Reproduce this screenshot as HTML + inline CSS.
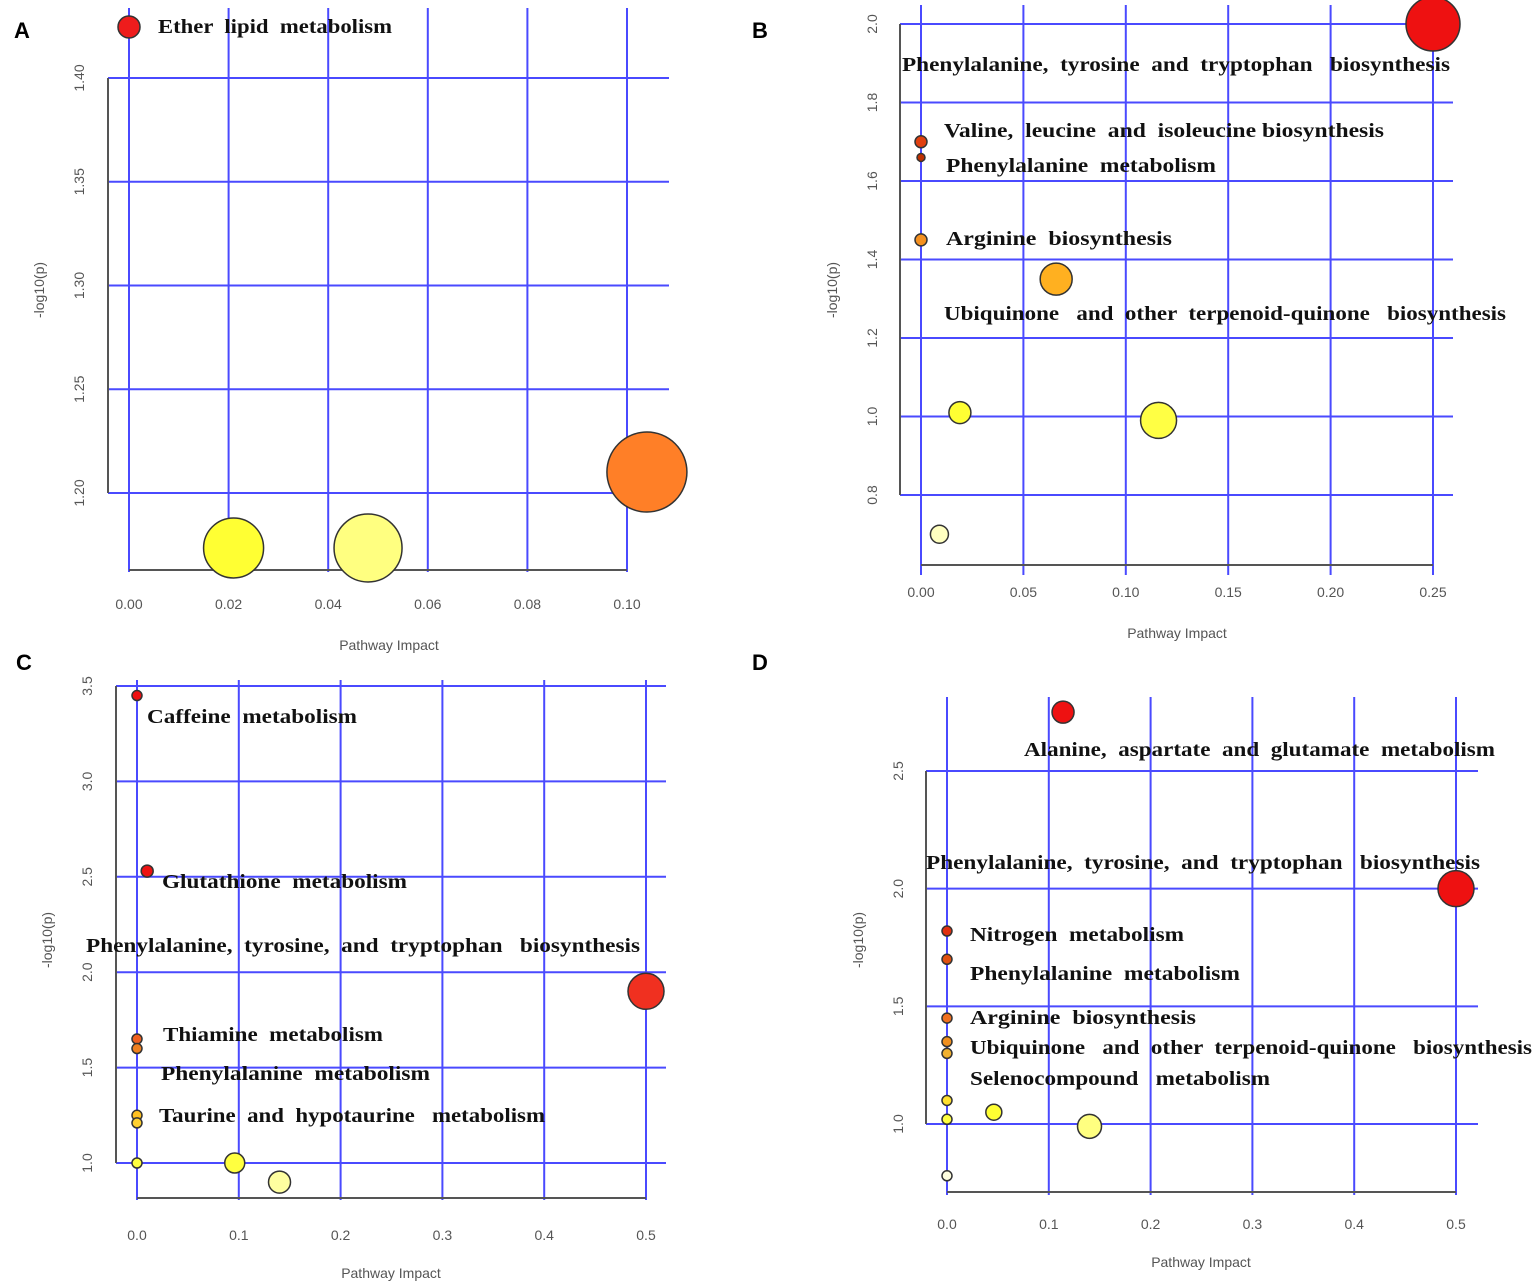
<!DOCTYPE html>
<html><head><meta charset="utf-8"><style>
body{margin:0;background:#fff;width:1535px;height:1286px;overflow:hidden}
svg{display:block}
.tk{font:14px "Liberation Sans",sans-serif;fill:#555}
.ti{font:14px "Liberation Sans",sans-serif;fill:#555}
.lb{font:bold 20px "Liberation Serif",serif;fill:#111}
.pl{font:bold 22px "Liberation Sans",sans-serif;fill:#000}
</style></head><body>
<svg id="chart" width="1535" height="1286" viewBox="0 0 1535 1286"></svg>
<script>
// Panel A data
const aX=[0.0,0.021,0.048,0.104];
const aY=[1.4246,1.1735,1.1735,1.2101];
const aR=[11,30,34,40];
const aC=["#ee1c1c","#ffff33","#ffff80","#ff7f27"];
const aXt=["0.00","0.02","0.04","0.06","0.08","0.10"];
const aYt=["1.20","1.25","1.30","1.35","1.40"];
const aLbl=[["Ether  lipid  metabolism",158,33,234]];
// Panel B data
const bX=[0.25,0.0,0.0,0.0,0.066,0.019,0.116,0.009];
const bY=[2.0,1.70,1.66,1.45,1.35,1.01,0.99,0.70];
const bR=[27,6,4,6,16,11,18,9];
const bC=["#ee1111","#e04010","#c03000","#f49020","#ffb020","#ffff33","#ffff44","#ffffc0"];
const bXt=["0.00","0.05","0.10","0.15","0.20","0.25"];
const bYt=["0.8","1.0","1.2","1.4","1.6","1.8","2.0"];
const bLbl=[["Phenylalanine,  tyrosine  and  tryptophan   biosynthesis",902,71,548],["Valine,  leucine  and  isoleucine biosynthesis",944,137,440],["Phenylalanine  metabolism",946,172,270],["Arginine  biosynthesis",946,245,226],["Ubiquinone   and  other  terpenoid-quinone   biosynthesis",944,320,562]];
// Panel C data
const cX=[0.0,0.01,0.5,0.0,0.0,0.0,0.0,0.0,0.096,0.14];
const cY=[3.45,2.53,1.9,1.65,1.60,1.25,1.21,1.0,1.0,0.9];
const cR=[5,6,18,5,5,5,5,5,10,11];
const cC=["#ee1111","#ee1111","#f03020","#f06020","#f08020","#ffc020","#ffd030","#ffff40","#ffff40","#ffffa0"];
const cXt=["0.0","0.1","0.2","0.3","0.4","0.5"];
const cYt=["1.0","1.5","2.0","2.5","3.0","3.5"];
const cLbl=[["Caffeine  metabolism",147,723,210],["Glutathione  metabolism",162,888,245],["Phenylalanine,  tyrosine,  and  tryptophan   biosynthesis",86,952,554],["Thiamine  metabolism",163,1041,220],["Phenylalanine  metabolism",161,1080,269],["Taurine  and  hypotaurine   metabolism",159,1122,386]];
// Panel D data
const dX=[0.114,0.5,0.0,0.0,0.0,0.0,0.0,0.0,0.046,0.0,0.14,0.0];
const dY=[2.75,2.0,1.82,1.70,1.45,1.35,1.30,1.10,1.05,1.02,0.99,0.78];
const dR=[11,18,5,5,5,5,5,5,8,5,12,5];
const dC=["#ee1111","#ee1111","#e03010","#e05010","#f07020","#f09020","#f0b030","#ffe030","#ffff33","#ffff40","#ffff80","#ffffe0"];
const dXt=["0.0","0.1","0.2","0.3","0.4","0.5"];
const dYt=["1.0","1.5","2.0","2.5"];
const dLbl=[["Alanine,  aspartate  and  glutamate  metabolism",1024,756,471],["Phenylalanine,  tyrosine,  and  tryptophan   biosynthesis",926,869,554],["Nitrogen  metabolism",970,941,214],["Phenylalanine  metabolism",970,980,270],["Arginine  biosynthesis",970,1024,226],["Ubiquinone   and  other  terpenoid-quinone   biosynthesis",970,1054,562],["Selenocompound   metabolism",970,1085,300]];

const NS="http://www.w3.org/2000/svg";
const svg=document.getElementById('chart');
function el(t,a,txt){const e=document.createElementNS(NS,t);for(const k in a)e.setAttribute(k,a[k]);if(txt!==undefined)e.textContent=txt;svg.appendChild(e);return e;}

function panel(p){
  const sx=v=>p.x0+(v-p.xv0)*(p.x1-p.x0)/(p.xv1-p.xv0);
  const sy=v=>p.y0+(v-p.yv0)*(p.y1-p.y0)/(p.yv1-p.yv0);
  const L=el('text',{x:p.letter[0],y:p.letter[1],class:'pl'},p.name);
  
  
  p.xt.forEach(t=>{const v=parseFloat(t),x=sx(v);
    const g=el('line',{x1:x,y1:p.gTop,x2:x,y2:p.gBot,stroke:'#4a4aff','stroke-width':2});
    
    
    const tl=el('text',{x:x,y:p.xtY,class:'tk','text-anchor':'middle'},t);
    
    
  });
  p.yt.forEach(t=>{const v=parseFloat(t),y=sy(v);
    const g=el('line',{x1:p.gL,y1:y,x2:p.gR,y2:y,stroke:'#4a4aff','stroke-width':2});
    
    
    const tl=el('text',{x:p.ytX,y:y,class:'tk','text-anchor':'middle',transform:`rotate(-90 ${p.ytX} ${y})`},t);
    
    
  });
  const yv=p.yt.map(parseFloat),xv=p.xt.map(parseFloat);
  const ya=el('line',{x1:p.axX,y1:sy(Math.max(...yv)),x2:p.axX,y2:sy(Math.min(...yv)),stroke:'#555','stroke-width':2});
  
  
  const xa=el('line',{x1:sx(Math.min(...xv)),y1:p.axY,x2:sx(Math.max(...xv)),y2:p.axY,stroke:'#555','stroke-width':2});
  
  
  const xt=el('text',{x:p.xtt[0],y:p.xtt[1],class:'ti','text-anchor':'middle'},'Pathway Impact');
  
  
  const yt=el('text',{x:p.ytt[0],y:p.ytt[1],class:'ti','text-anchor':'middle',transform:`rotate(-90 ${p.ytt[0]} ${p.ytt[1]})`},'-log10(p)');
  
  
  p.X.forEach((v,i)=>{
    const c=el('circle',{cx:sx(v),cy:sy(p.Y[i]),r:p.R[i],fill:p.C[i],stroke:'#333','stroke-width':1.5});
    
    
  });
  p.lbl.forEach(l=>{
    const t=el('text',{x:l[1],y:l[2],class:'lb',textLength:l[3],lengthAdjust:'spacingAndGlyphs'},l[0]);
    t.style.whiteSpace='pre';
    
    
  });
}
panel({name:'A',letter:[14,38],X:aX,Y:aY,R:aR,C:aC,xt:aXt,yt:aYt,lbl:aLbl,xv0:0,xv1:0.1,x0:129,x1:627,yv0:1.4,yv1:1.2,y0:78,y1:493,gTop:8,gBot:572,gL:108,gR:669,axX:108,axY:570,xtY:609,ytX:84,xtt:[389,650],ytt:[44,290]});
panel({name:'B',letter:[752,38],X:bX,Y:bY,R:bR,C:bC,xt:bXt,yt:bYt,lbl:bLbl,xv0:0,xv1:0.25,x0:921,x1:1433,yv0:2.0,yv1:0.8,y0:24,y1:495,gTop:5,gBot:575,gL:900,gR:1453,axX:900,axY:565,xtY:597,ytX:877,xtt:[1177,638],ytt:[837,290]});
panel({name:'C',letter:[16,670],X:cX,Y:cY,R:cR,C:cC,xt:cXt,yt:cYt,lbl:cLbl,xv0:0,xv1:0.5,x0:137,x1:646,yv0:3.5,yv1:1.0,y0:686,y1:1163,gTop:680,gBot:1200,gL:116,gR:666,axX:116,axY:1198,xtY:1240,ytX:92,xtt:[391,1278],ytt:[52,940]});
panel({name:'D',letter:[752,670],X:dX,Y:dY,R:dR,C:dC,xt:dXt,yt:dYt,lbl:dLbl,xv0:0,xv1:0.5,x0:947,x1:1456,yv0:2.5,yv1:1.0,y0:771,y1:1124,gTop:697,gBot:1195,gL:926,gR:1478,axX:926,axY:1192,xtY:1229,ytX:903,xtt:[1201,1267],ytt:[863,940]});
</script>
</body></html>
